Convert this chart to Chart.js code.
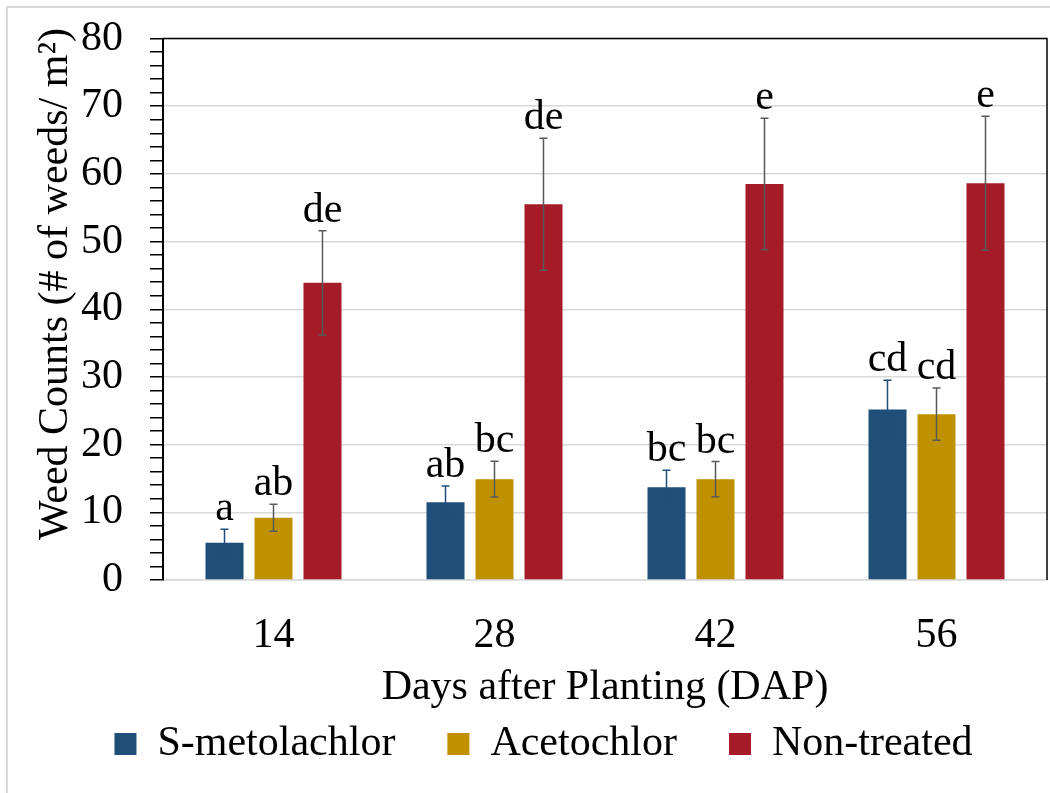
<!DOCTYPE html>
<html>
<head>
<meta charset="utf-8">
<script src="https://cdn.jsdelivr.net/npm/chart.js@4.4.0/dist/chart.umd.min.js"></script>
<style>
  html, body { margin: 0; padding: 0; background: #fff; }
</style>
</head>
<body>
<canvas id="chart" width="1050" height="793"></canvas>
<script>
const days = ['14', '28', '42', '56'];

const sMeto = [5.5, 11.5, 13.7, 25.2];
const sMetoErr = [2.0, 2.4, 2.5, 4.3];
const sMetoLetters = ['a', 'ab', 'bc', 'cd'];

const aceto = [9.2, 14.9, 14.9, 24.5];
const acetoErr = [2.0, 2.65, 2.6, 3.85];
const acetoLetters = ['ab', 'bc', 'bc', 'cd'];

const nonTreated = [43.9, 55.5, 58.5, 58.6];
const nonTreatedErr = [7.7, 9.75, 9.7, 9.9];
const nonTreatedLetters = ['de', 'de', 'e', 'e'];

const yTicksMajor = [0, 10, 20, 30, 40, 50, 60, 70, 80];
const yTitle = 'Weed Counts (# of weeds/ m²)';

const font = '"Liberation Serif", "Times New Roman", serif';

// error bars + significance letters on top of each bar
const errorBars = {
  id: 'errorBars',
  afterDatasetsDraw(chart) {
    const ctx = chart.ctx;
    const y = chart.scales.y;
    chart.data.datasets.forEach((ds, i) => {
      const meta = chart.getDatasetMeta(i);
      meta.data.forEach((bar, j) => {
        const top = y.getPixelForValue(ds.data[j] + ds.err[j]);
        const bot = y.getPixelForValue(ds.data[j] - ds.err[j]);
        ctx.save();
        ctx.strokeStyle = ds.errColor;
        ctx.lineWidth = 1.5;
        ctx.beginPath();
        ctx.moveTo(bar.x, top); ctx.lineTo(bar.x, bot);
        ctx.moveTo(bar.x - 4, top); ctx.lineTo(bar.x + 4, top);
        ctx.moveTo(bar.x - 4, bot); ctx.lineTo(bar.x + 4, bot);
        ctx.stroke();
        ctx.fillStyle = '#000';
        ctx.font = '42px ' + font;
        ctx.textAlign = 'center';
        ctx.textBaseline = 'alphabetic';
        ctx.fillText(ds.letters[j], bar.x, top - 9);
        ctx.restore();
      });
    });
  }
};

// plot frame, outer chart border and the rotated y title
const frame = {
  id: 'frame',
  afterDraw(chart) {
    const a = chart.chartArea;
    const ctx = chart.ctx;
    ctx.save();
    ctx.strokeStyle = '#000';
    ctx.lineWidth = 1.5;
    ctx.beginPath();
    ctx.moveTo(a.left, a.top); ctx.lineTo(a.right, a.top); ctx.lineTo(a.right, a.bottom);
    ctx.stroke();

    ctx.strokeStyle = '#d9d9d9';
    ctx.lineWidth = 2;
    ctx.beginPath();
    ctx.moveTo(7, 793); ctx.lineTo(7, 7); ctx.lineTo(1050, 7);
    ctx.stroke();

    ctx.translate(56, 284);
    ctx.rotate(-Math.PI / 2);
    ctx.fillStyle = '#000';
    ctx.font = '42px ' + font;
    ctx.textAlign = 'center';
    ctx.textBaseline = 'middle';
    ctx.fillText(yTitle, 0, 0);
    ctx.restore();
  }
};

new Chart(document.getElementById('chart'), {
  type: 'bar',
  data: {
    labels: days,
    datasets: [
      { label: 'S-metolachlor', data: sMeto, err: sMetoErr, letters: sMetoLetters,
        backgroundColor: '#1F4E79', errColor: '#1F4E79' },
      { label: 'Acetochlor', data: aceto, err: acetoErr, letters: acetoLetters,
        backgroundColor: '#BF9000', errColor: '#595959' },
      { label: 'Non-treated', data: nonTreated, err: nonTreatedErr, letters: nonTreatedLetters,
        backgroundColor: '#A51C28', errColor: '#595959' }
    ]
  },
  options: {
    responsive: false,
    animation: false,
    categoryPercentage: 0.665,
    barPercentage: 0.776,
    layout: { padding: { top: 38.5, right: 3, left: 40, bottom: 18 } },
    plugins: {
      tooltip: { enabled: false },
      legend: {
        position: 'bottom',
        labels: {
          font: { family: font, size: 42 },
          color: '#000',
          boxWidth: 22,
          boxHeight: 22,
          padding: 52
        }
      }
    },
    scales: {
      x: {
        afterFit(scale) { scale.height = 91; },
        grid: { display: false },
        border: { color: '#d9d9d9', width: 1.5 },
        ticks: { color: '#000', font: { family: font, size: 42 }, padding: 23 },
        title: {
          display: true, text: 'Days after Planting (DAP)', color: '#000',
          font: { family: font, size: 42 }, padding: { top: 0, bottom: -42 }
        }
      },
      y: {
        min: 0, max: 80,
        afterFit(scale) {
          scale.width = 123;
          scale.paddingTop = 0;
          scale.paddingBottom = 0;
        },
        afterBuildTicks(scale) {
          const t = [];
          for (let v = 0; v <= 80; v += 2) t.push({ value: v });
          scale.ticks = t;
        },
        grid: {
          color: c => yTicksMajor.includes(c.tick.value) ? '#d9d9d9' : 'rgba(0,0,0,0)',
          lineWidth: 1.5,
          tickColor: '#000',
          tickLength: 13,
          tickWidth: 1.5
        },
        border: { color: '#000', width: 2 },
        ticks: {
          autoSkip: false,
          color: '#000',
          font: { family: font, size: 42 },
          padding: 27,
          callback: v => yTicksMajor.includes(v) ? v : ''
        }
      }
    }
  },
  plugins: [errorBars, frame]
});
</script>
</body>
</html>
